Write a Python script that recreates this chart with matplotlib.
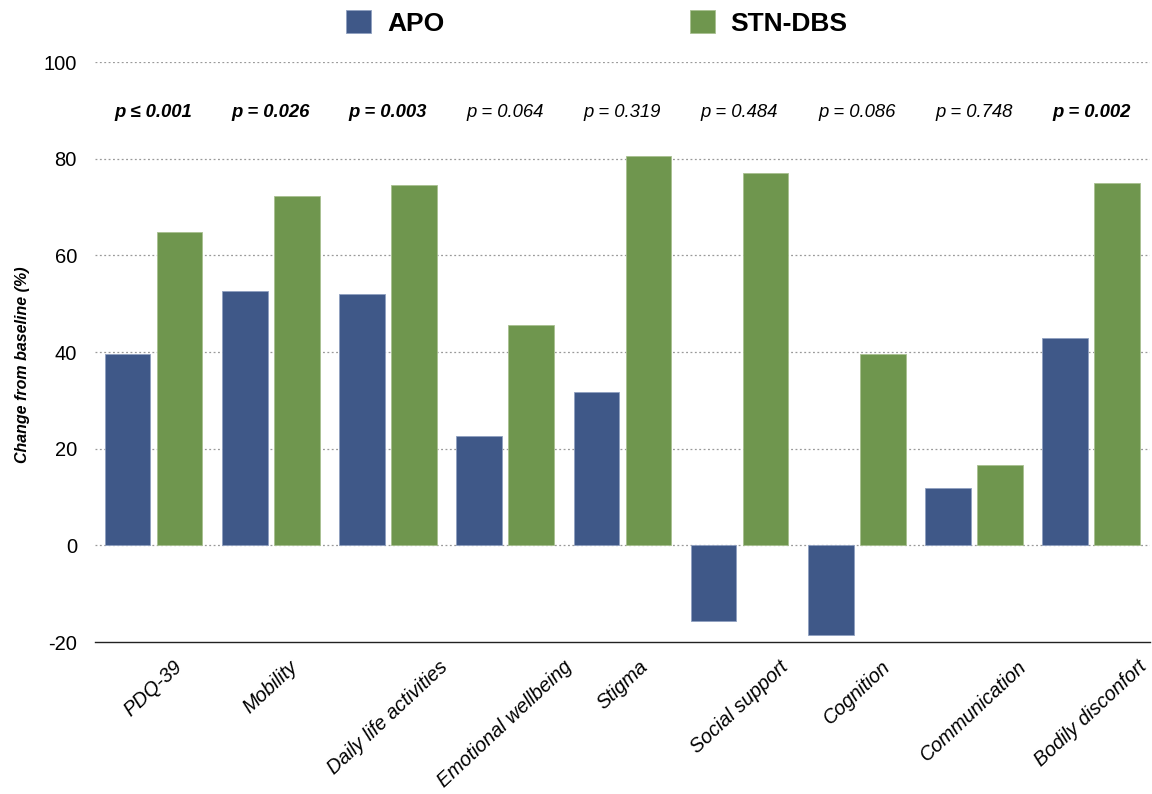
import matplotlib
matplotlib.use("Agg")
import matplotlib.pyplot as plt
import numpy as np

categories = ["PDQ-39", "Mobility", "Daily life activities", "Emotional wellbeing",
              "Stigma", "Social support", "Cognition", "Communication", "Bodily disconfort"]
apo = [39.5, 52.6, 52.0, 22.6, 31.7, -15.7, -18.6, 11.8, 42.9]
stn_dbs = [64.8, 72.3, 74.5, 45.5, 80.5, 77.0, 39.5, 16.6, 74.9]
p_labels = ["p ≤ 0.001", "p = 0.026", "p = 0.003", "p = 0.064", "p = 0.319",
            "p = 0.484", "p = 0.086", "p = 0.748", "p = 0.002"]
p_significant = [True, True, True, False, False, False, False, False, True]
y_ticks = [-20, 0, 20, 40, 60, 80, 100]

plt.rcParams["font.family"] = ["Liberation Sans", "DejaVu Sans"]

fig = plt.figure(figsize=(11.52, 7.94), dpi=100)
ax = fig.add_axes([0.0825, 0.1914, 0.9155, 0.7305])

x = np.arange(len(categories))
w = 0.39
c_apo = "#3F5888"
c_stn = "#6F964E"
b1 = ax.bar(x - 0.222, apo, w, color=c_apo, edgecolor="#8fa0c0", linewidth=0.6, label="APO", zorder=3)
b2 = ax.bar(x + 0.222, stn_dbs, w, color=c_stn, edgecolor="#a8c090", linewidth=0.6, label="STN-DBS", zorder=3)

ax.set_xlim(-0.5, len(categories) - 0.5)
ax.set_ylim(-20, 100)
ax.set_yticks(y_ticks)
ax.set_yticklabels([str(t) for t in y_ticks], fontsize=14.5)
for t in y_ticks[1:]:
    ax.axhline(t, color="#999999", linestyle=(0, (1.5, 2)), linewidth=0.9, zorder=1)

for s in ["left", "right", "top"]:
    ax.spines[s].set_visible(False)
ax.spines["bottom"].set_color("#222222")
ax.spines["bottom"].set_linewidth(1.0)
ax.tick_params(axis="y", length=0, pad=13)
ax.tick_params(axis="x", length=0, pad=11)

ax.set_xticks(x)
ax.set_xticklabels(categories, rotation=43, ha="center", va="top",
                   fontsize=14.3, fontstyle="italic")

for xi, lab, sig in zip(x, p_labels, p_significant):
    ax.text(xi, 89.6, lab, ha="center", va="center", fontsize=13.3, fontstyle="italic",
            fontweight="bold" if sig else "normal")

ax.set_ylabel("Change from baseline (%)", fontsize=11.5, fontweight="bold", fontstyle="italic")
ax.yaxis.set_label_coords(-0.062, 0.478)

fig.legend(handles=[b1, b2], loc="center", bbox_to_anchor=(0.518, 0.971), ncol=2,
           frameon=False, prop={"weight": "bold", "size": 19},
           handlelength=0.95, handleheight=0.95, columnspacing=9.3, handletextpad=0.6)

fig.savefig("out.png", dpi=100)
